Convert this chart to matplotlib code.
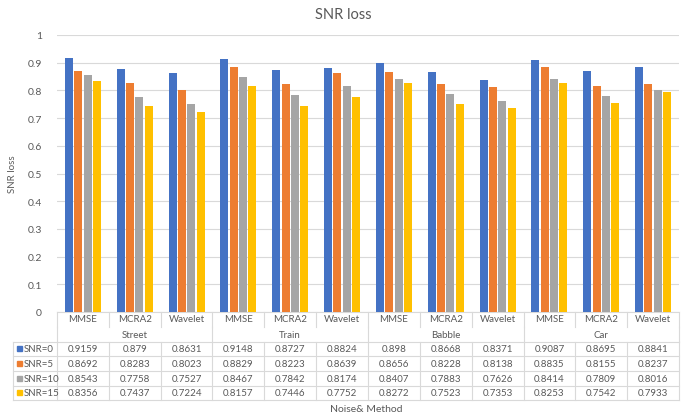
import numpy as np
import matplotlib.pyplot as plt
import matplotlib.transforms as mtransforms
from matplotlib.patches import Rectangle

plt.rcParams["font.family"] = ["Lato", "DejaVu Sans"]

# data
groups = ["Street", "Train", "Babble", "Car"]
methods = ["MMSE", "MCRA2", "Wavelet"]
series = ["SNR=0", "SNR=5", "SNR=10", "SNR=15"]
snr0 = [0.9159, 0.879, 0.8631, 0.9148, 0.8727, 0.8824, 0.898, 0.8668, 0.8371, 0.9087, 0.8695, 0.8841]
snr5 = [0.8692, 0.8283, 0.8023, 0.8829, 0.8223, 0.8639, 0.8656, 0.8228, 0.8138, 0.8835, 0.8155, 0.8237]
snr10 = [0.8543, 0.7758, 0.7527, 0.8467, 0.7842, 0.8174, 0.8407, 0.7883, 0.7626, 0.8414, 0.7809, 0.8016]
snr15 = [0.8356, 0.7437, 0.7224, 0.8157, 0.7446, 0.7752, 0.8272, 0.7523, 0.7353, 0.8253, 0.7542, 0.7933]
values = [snr0, snr5, snr10, snr15]
colors = ["#4472C4", "#ED7D31", "#A5A5A5", "#FFC000"]
txt = "#595959"
grid = "#D9D9D9"

W, H = 686, 414
fig = plt.figure(figsize=(W / 100, H / 100), dpi=100)
L, R, T, B = 57, 679, 36, 313
ax = fig.add_axes([L / W, 1 - B / H, (R - L) / W, (B - T) / H])

n = len(snr0)
x = np.arange(n)
pitch, bw = 0.18, 0.152
for k, (vals, c) in enumerate(zip(values, colors)):
    ax.bar(x + (k - 1.5) * pitch, vals, width=bw, color=c, zorder=3)

ax.set_xlim(-0.5, n - 0.5)
ax.set_ylim(0, 1)
ax.set_yticks(np.arange(0, 1.01, 0.1))
ax.set_yticklabels(["0", "0.1", "0.2", "0.3", "0.4", "0.5", "0.6", "0.7", "0.8", "0.9", "1"])
ax.yaxis.grid(True, color=grid, linewidth=0.8, zorder=0)
ax.tick_params(axis="y", length=0, labelsize=7.5, labelcolor=txt, pad=11)
ax.set_xticks([])
for s in ["top", "right", "left"]:
    ax.spines[s].set_visible(False)
ax.spines["bottom"].set_color(grid)
ax.set_ylabel("SNR loss", fontsize=7, color=txt)
ax.yaxis.set_label_coords(-(L - 17) / (R - L), 0.5)

fig.text(343 / W, 1 - 15 / H, "SNR loss", ha="center", va="center", fontsize=10.5, color=txt)

# data table under the axes: x in data units, y in figure pixels
tr = mtransforms.blended_transform_factory(ax.transData, fig.transFigure)
def fy(p):
    return 1 - p / H

def hline(x0, x1, yp):
    ax.plot([x0, x1], [fy(yp), fy(yp)], color=grid, lw=0.8, transform=tr, clip_on=False)

def vline(xv, y0, y1):
    ax.plot([xv, xv], [fy(y0), fy(y1)], color=grid, lw=0.8, transform=tr, clip_on=False)

colw = (R - L) / n
xleft = -0.5 - (L - 13) / colw
row0 = 342.5
rh = 14.7
fs = 7

# method row
for i in range(n):
    ax.text(i, fy(320), methods[i % 3], ha="center", va="center", fontsize=fs,
            color=txt, transform=tr)
for i in range(n + 1):
    vline(i - 0.5, B, 328)
# group row
for g, name in enumerate(groups):
    ax.text(3 * g + 1, fy(335), name, ha="center", va="center", fontsize=fs,
            color=txt, transform=tr)
for g in range(len(groups) + 1):
    vline(3 * g - 0.5, 328, row0)

# data rows
for r in range(len(series) + 1):
    hline(xleft, n - 0.5, row0 + r * rh)
ybot = row0 + len(series) * rh
for i in range(n + 1):
    vline(i - 0.5, row0, ybot)
vline(xleft, row0, ybot)
for r, (name, vals, c) in enumerate(zip(series, values, colors)):
    yc = row0 + (r + 0.5) * rh
    sq = (17 - L) / colw - 0.5
    ax.add_patch(Rectangle((sq, fy(yc + 2.5)), 5 / colw, 5 / H, color=c,
                           transform=tr, clip_on=False))
    ax.text(sq + 6.5 / colw, fy(yc), name, ha="left", va="center", fontsize=fs,
            color=txt, transform=tr)
    for i, v in enumerate(vals):
        ax.text(i, fy(yc), f"{v:g}", ha="center", va="center", fontsize=fs,
                color=txt, transform=tr)

fig.text(366 / W, 1 - 410 / H, "Noise& Method", ha="center", va="center",
         fontsize=7.5, color=txt)

fig.savefig("out.png", dpi=100, facecolor="white")
